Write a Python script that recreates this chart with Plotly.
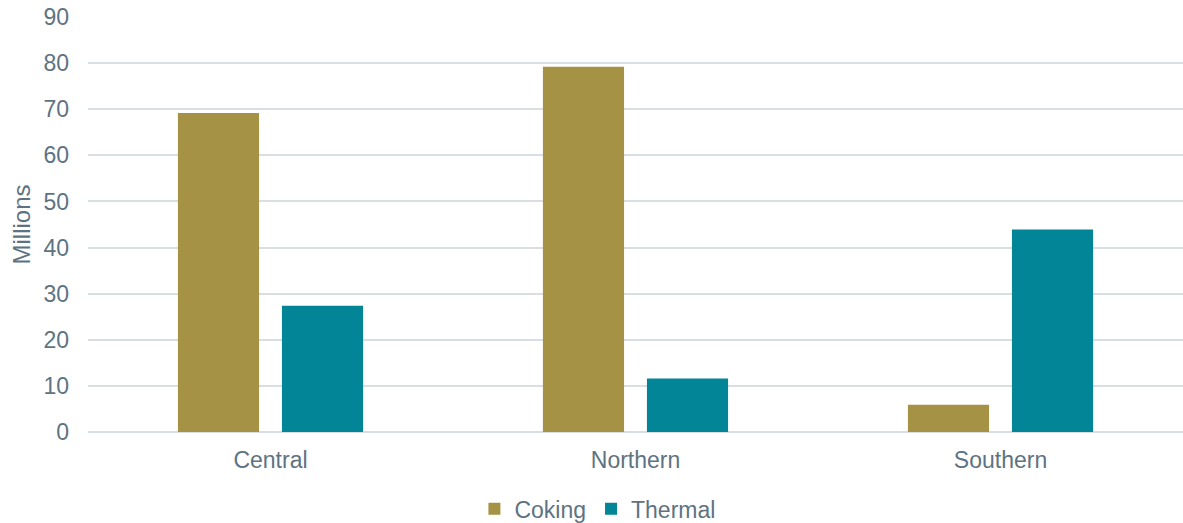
import plotly.graph_objects as go

categories = ["Central", "Northern", "Southern"]
coking = [69.2, 79.2, 5.9]
thermal = [27.4, 11.6, 43.9]
y_ticks = [0, 10, 20, 30, 40, 50, 60, 70, 80, 90]

text_color = "#5E7382"
grid_color = "#D9DEE3"
font_family = "Liberation Sans, Arial, sans-serif"
fs = 23

fig = go.Figure()
fig.add_trace(go.Bar(name="Coking", x=categories, y=coking,
                     marker=dict(color="#A69244", line=dict(width=0))))
fig.add_trace(go.Bar(name="Thermal", x=categories, y=thermal,
                     marker=dict(color="#018597", line=dict(width=0))))

fig.update_layout(
    width=1183, height=523,
    margin=dict(l=88, r=0, t=17, b=91),
    paper_bgcolor="white", plot_bgcolor="white",
    barmode="group", bargap=0.43, bargroupgap=0.22,
    font=dict(family=font_family, size=fs, color=text_color),
    legend=dict(orientation="h", xref="container", yref="container",
                x=0.505, xanchor="center", y=0.027, yanchor="middle",
                font=dict(size=fs, color=text_color), itemwidth=30,
                traceorder="normal"),
    showlegend=True,
)
fig.update_xaxes(showgrid=False, showline=False, ticks="",
                 ticklabelstandoff=12,
                 tickfont=dict(size=fs, color=text_color))
fig.update_yaxes(range=[0, 90], tickvals=y_ticks, showgrid=True,
                 gridcolor=grid_color, gridwidth=1.5, zeroline=True,
                 zerolinecolor=grid_color, zerolinewidth=1.5,
                 showline=False, ticks="", ticklabelstandoff=18,
                 tickfont=dict(size=fs, color=text_color),
                 title=dict(text="Millions", font=dict(size=fs + 1, color=text_color),
                            standoff=6))

fig.write_html("out.html")
